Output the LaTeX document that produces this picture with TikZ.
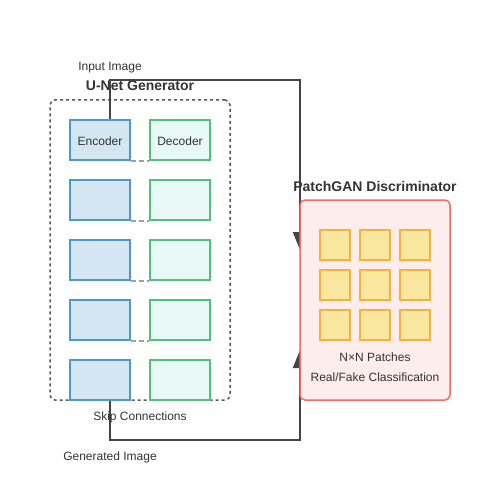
\documentclass[tikz,border=0pt]{standalone}
\usepackage{fontspec}
\setmainfont{Liberation Sans}
\usetikzlibrary{arrows.meta}
\definecolor{txt}{HTML}{333333}
\definecolor{ln}{HTML}{444444}
\definecolor{encf}{HTML}{D4E6F1}
\definecolor{encs}{HTML}{4F97C6}
\definecolor{decf}{HTML}{E8F8F5}
\definecolor{decs}{HTML}{52BE80}
\definecolor{disf}{HTML}{FDEDEC}
\definecolor{diss}{HTML}{EC7063}
\definecolor{patf}{HTML}{F9E79F}
\definecolor{pats}{HTML}{F5B041}
\definecolor{skipc}{HTML}{A0A0A0}
\begin{document}
\begin{tikzpicture}[x=1pt,y=-1pt,
  lbl/.style={text=txt,font=\fontsize{12}{14}\selectfont,inner sep=0pt,yshift=-1.5pt},
  ttl/.style={text=txt,font=\fontsize{14}{16}\selectfont\bfseries,inner sep=0pt,yshift=-1pt},
  encbox/.style={draw=encs,fill=encf,line width=2pt,minimum width=60pt,minimum height=40pt,inner sep=0pt,text=txt,font=\fontsize{12}{14}\selectfont},
  decbox/.style={draw=decs,fill=decf,line width=2pt,minimum width=60pt,minimum height=40pt,inner sep=0pt,text=txt,font=\fontsize{12}{14}\selectfont},
  patbox/.style={draw=pats,fill=patf,line width=1.5pt,minimum width=30pt,minimum height=30pt,inner sep=0pt},
  skipln/.style={draw=skipc,line width=2pt,dash pattern=on 5pt off 3pt},
  flow/.style={draw=ln,line width=2pt,-{Triangle[width=14pt,length=18pt]}}
]
\useasboundingbox[fill=white] (0,0) rectangle (500,500);
% flow corners
\coordinate (c1) at (110,80);
\coordinate (c2) at (300,80);
\coordinate (t1) at (300,250);
\coordinate (c3) at (110,440);
\coordinate (c4) at (300,440);
\coordinate (t2) at (300,350);
% generator frame
\node[draw=ln!90,line width=1.5pt,dash pattern=on 3pt off 3pt,rounded corners=5pt,minimum width=180pt,minimum height=300pt,inner sep=0pt] (gen) at (140,250) {};
\node[ttl] (gent) at (140,85) {U-Net Generator};
\node[lbl] (inp) at (110,66) {Input Image};
% encoders / decoders
\foreach \i/\y in {1/140,2/200,3/260,4/320,5/380}{
  \node[encbox] (e\i) at (100,\y) {};
  \node[decbox] (d\i) at (180,\y) {};
}
\node[lbl] at (e1) {Encoder};
\node[lbl] at (d1) {Decoder};
\foreach \i in {1,2,3,4}{
  \draw[skipln] (e\i.south east) -- (d\i.south west);
}
\draw[flow] (e1.north -| c1) -- (c1) -- (c2) -- (t1);
\draw[flow] (e5.south -| c3) -- (c3) -- (c4) -- (t2);
\node[lbl] (skip) at (140,416) {Skip Connections};
\node[lbl] (genimg) at (110,456) {Generated Image};
% discriminator
\node[draw=diss,fill=disf,line width=1.5pt,rounded corners=5pt,minimum width=150pt,minimum height=200pt,inner sep=0pt] (dis) at (375,300) {};
\node[ttl] (dist) at (375,185) {PatchGAN Discriminator};
\foreach \r/\y in {1/245,2/285,3/325}{
  \foreach \c/\x in {1/335,2/375,3/415}{
    \node[patbox] (p\r\c) at (\x,\y) {};
  }
}
\node[lbl] (nxn) at (375,356) {N×N Patches};
\node[lbl] (rf) at (375,376) {Real/Fake Classification};
\end{tikzpicture}
\end{document}
